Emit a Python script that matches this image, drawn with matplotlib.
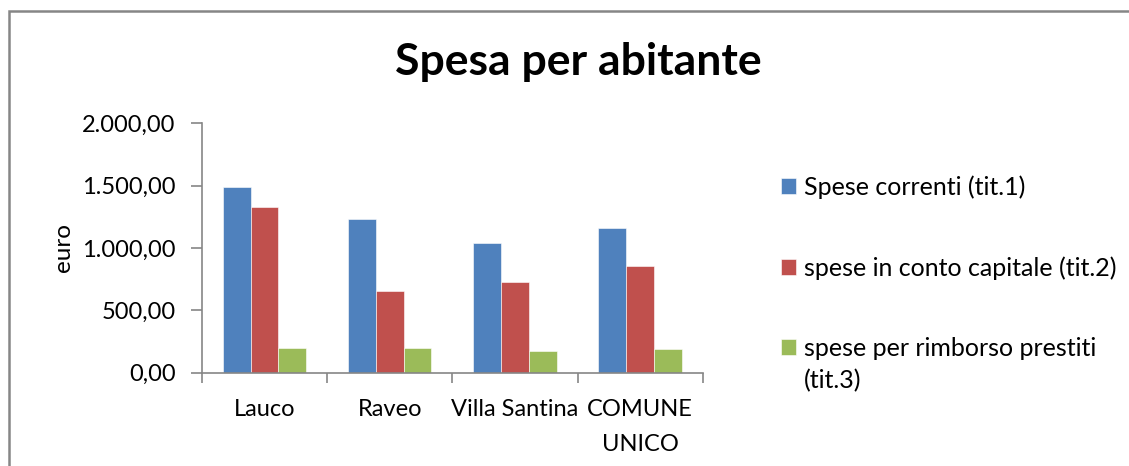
import numpy as np
import matplotlib
matplotlib.use("Agg")
import matplotlib.pyplot as plt
from matplotlib.patches import Rectangle
from matplotlib.ticker import FuncFormatter

plt.rcParams['font.family'] = ['Lato', 'DejaVu Sans']

comuni = ["Lauco", "Raveo", "Villa Santina", "COMUNE\nUNICO"]
serie = ["Spese correnti (tit.1)",
         "spese in conto capitale (tit.2)",
         "spese per rimborso prestiti"]
serie_riga2 = "(tit.3)"
spese_correnti = [1486, 1235, 1038, 1163]
spese_capitale = [1331, 659, 728, 854]
spese_rimborso = [200, 200, 174, 187]
colori = ["#4F81BD", "#C0504D", "#9BBB59"]


def fmt_it(v, pos):
    s = "{:,.2f}".format(v)
    return s.replace(",", "X").replace(".", ",").replace("X", ".")


fig = plt.figure(figsize=(11.29, 4.66), dpi=100)
ax = fig.add_axes([202 / 1129, 1 - 372.7 / 466, 500.7 / 1129, 249.4 / 466])

x = np.arange(len(comuni))
w = 1 / 4.5
for i, (vals, lab, col) in enumerate(zip([spese_correnti, spese_capitale, spese_rimborso], serie, colori)):
    ax.bar(x + (i - 1) * w, vals, width=w, color=col, label=lab, edgecolor="white", linewidth=0.4)

ax.set_xlim(-0.5, len(comuni) - 0.5)
ax.set_ylim(0, 2000)
ax.set_yticks([0, 500, 1000, 1500, 2000])
ax.yaxis.set_major_formatter(FuncFormatter(fmt_it))
ax.set_xticks(x)
ax.set_xticklabels(comuni, fontsize=17, linespacing=1.8)
ax.set_xticks(np.arange(len(comuni) + 1) - 0.5, minor=True)
ax.tick_params(axis="x", which="major", length=0, pad=19)
ax.tick_params(axis="x", which="minor", length=7, color="#868686", width=1.2)
ax.tick_params(axis="y", length=8, color="#868686", width=1.2, labelsize=17, pad=11)
for s in ["top", "right"]:
    ax.spines[s].set_visible(False)
for s in ["left", "bottom"]:
    ax.spines[s].set_color("#868686")
    ax.spines[s].set_linewidth(1.2)

ax.set_ylabel("euro", fontsize=17.5)
ax.yaxis.set_label_coords(-0.255, 0.5)

fig.text(0.512, 1 - 62 / 466, "Spesa per abitante", ha="center", va="center",
         fontsize=32, fontweight="bold")

leg = ax.legend(loc="upper left", bbox_to_anchor=(781 / 1129, 1 - 175 / 466),
                bbox_transform=fig.transFigure, frameon=False, borderpad=0, borderaxespad=0,
                fontsize=18, handlelength=0.6, handleheight=0.6, handletextpad=0.3,
                labelspacing=2.3)

# second line of the third legend entry, aligned under its first line
fig.canvas.draw()
bb = leg.get_texts()[2].get_window_extent()
fig.text(bb.x0 / 1129, (bb.y0 - 32) / 466, serie_riga2, fontsize=18, va="bottom", ha="left")

fig.patches.append(Rectangle((9 / 1129, -0.1), 1.2, 1.1 - 11 / 466, transform=fig.transFigure,
                             fill=False, edgecolor="#868686", linewidth=1.8))

fig.savefig("out.png", dpi=100)
